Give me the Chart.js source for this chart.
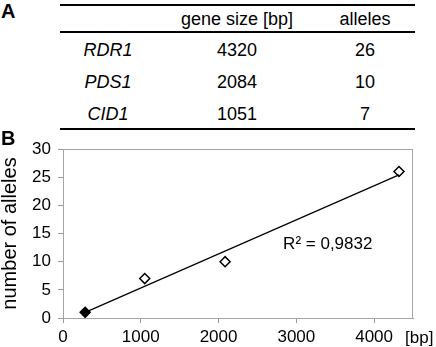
<!DOCTYPE html>
<html>
<head>
<meta charset="utf-8">
<script src="https://cdn.jsdelivr.net/npm/chart.js@4"></script>
<style>
  body { margin: 0; background: #fff; }
  #wrap { position: relative; width: 436px; height: 347px; font-family: "Liberation Sans", Arial, sans-serif; color: #000; }
  .t { position: absolute; font-size: 18px; line-height: 18px; white-space: nowrap; transform: translateX(-50%); }
  .it { font-style: italic; }
  .lbl { position: absolute; font-size: 20px; line-height: 20px; font-weight: bold; z-index: 2; }
  .rule { position: absolute; left: 60px; width: 355px; height: 2px; background: #000; }
  #chartBox { position: absolute; left: 0; top: 130px; width: 436px; height: 217px; }
</style>
</head>
<body>
<div id="wrap">
  <div class="lbl" style="left:1px;top:1px">A</div>
  <div class="lbl" style="left:1px;top:128px">B</div>
  <div class="rule" style="top:4px"></div>
  <div class="rule" style="top:31px"></div>
  <div class="rule" style="top:128px"></div>
  <div id="table"></div>
  <div id="chartBox"><canvas id="alleleChart" width="436" height="217"></canvas></div>
</div>
<script>
// table (panel A)
const genes = ["RDR1", "PDS1", "CID1"];
const geneSizes = [4320, 2084, 1051];
const alleles = [26, 10, 7];

// scatter (panel B)
const openX = [1051, 2084, 4320];
const openY = [7, 10, 26];
const filledX = [285];
const filledY = [1];
const trendX = [285, 4320];
const trendY = [1.0, 25.4];
const xTicks = [0, 1000, 2000, 3000, 4000];
const yTicks = [0, 5, 10, 15, 20, 25, 30];
const rSquared = "R² = 0,9832";

function buildTable() {
  const t = document.getElementById("table");
  const colX = [108, 237, 365];
  const rowTop = [40.75, 72.75, 104.75];
  let html = `<div class="t" style="left:${colX[1]}px;top:9.75px">gene size [bp]</div>
    <div class="t" style="left:${colX[2]}px;top:9.75px">alleles</div>`;
  genes.forEach((g, i) => {
    html += `<div class="t it" style="left:${colX[0]}px;top:${rowTop[i]}px">${g}</div>
      <div class="t" style="left:${colX[1]}px;top:${rowTop[i]}px">${geneSizes[i]}</div>
      <div class="t" style="left:${colX[2]}px;top:${rowTop[i]}px">${alleles[i]}</div>`;
  });
  t.innerHTML = html;
}
buildTable();

const fam = "'Liberation Sans', Arial, sans-serif";
const tickFont = { family: fam, size: 17 };

const extras = {
  id: "extras",
  afterDraw(chart) {
    const { ctx, chartArea, scales } = chart;
    ctx.save();
    ctx.strokeStyle = "#a6a6a6";
    ctx.lineWidth = 1;
    ctx.strokeRect(chartArea.left + 0.5, chartArea.top + 0.5, chartArea.right - chartArea.left - 1, chartArea.bottom - chartArea.top);
    ctx.fillStyle = "#000";
    ctx.font = "17px " + fam;
    ctx.textBaseline = "middle";
    ctx.textAlign = "left";
    ctx.fillText(rSquared, scales.x.getPixelForValue(2830), scales.y.getPixelForValue(13.1));
    ctx.fillText("[bp]", 405, chartArea.bottom + 20);
    ctx.restore();
  },
};

new Chart(document.getElementById("alleleChart"), {
  type: "scatter",
  data: {
    datasets: [
      {
        type: "line",
        data: trendX.map((x, i) => ({ x, y: trendY[i] })),
        borderColor: "#000",
        borderWidth: 1.2,
        pointRadius: 0,
        fill: false,
      },
      {
        data: openX.map((x, i) => ({ x, y: openY[i] })),
        pointStyle: "rectRot",
        pointRadius: 5,
        backgroundColor: "#fff",
        borderColor: "#000",
        borderWidth: 1.5,
      },
      {
        data: filledX.map((x, i) => ({ x, y: filledY[i] })),
        pointStyle: "rectRot",
        pointRadius: 5,
        backgroundColor: "#000",
        borderColor: "#000",
        borderWidth: 1.5,
      },
    ],
  },
  options: {
    responsive: false,
    animation: false,
    devicePixelRatio: 1,
    layout: { padding: { top: 19, right: 23, left: 0, bottom: 0 } },
    plugins: { legend: { display: false }, tooltip: { enabled: false } },
    scales: {
      x: {
        type: "linear",
        min: 0,
        max: 4500,
        afterBuildTicks: (s) => { s.ticks = xTicks.map((v) => ({ value: v })); },
        afterFit: (s) => { s.height = 29; },
        ticks: { font: tickFont, color: "#000", padding: 4, callback: (v) => String(v) },
        grid: { drawOnChartArea: false, tickLength: 5, color: "#999" },
        border: { color: "#999" },
      },
      y: {
        min: 0,
        max: 30,
        afterBuildTicks: (s) => { s.ticks = yTicks.map((v) => ({ value: v })); },
        afterFit: (s) => { s.width = 63; },
        ticks: { font: tickFont, color: "#000", padding: 7, callback: (v) => String(v) },
        grid: { drawOnChartArea: false, tickLength: 5, color: "#999" },
        border: { color: "#999" },
        title: {
          display: true,
          text: "number of alleles",
          font: { family: fam, size: 20, lineHeight: 1 },
          color: "#000",
          padding: { top: 0, bottom: 0 },
        },
      },
    },
  },
  plugins: [extras],
});
</script>
</body>
</html>
